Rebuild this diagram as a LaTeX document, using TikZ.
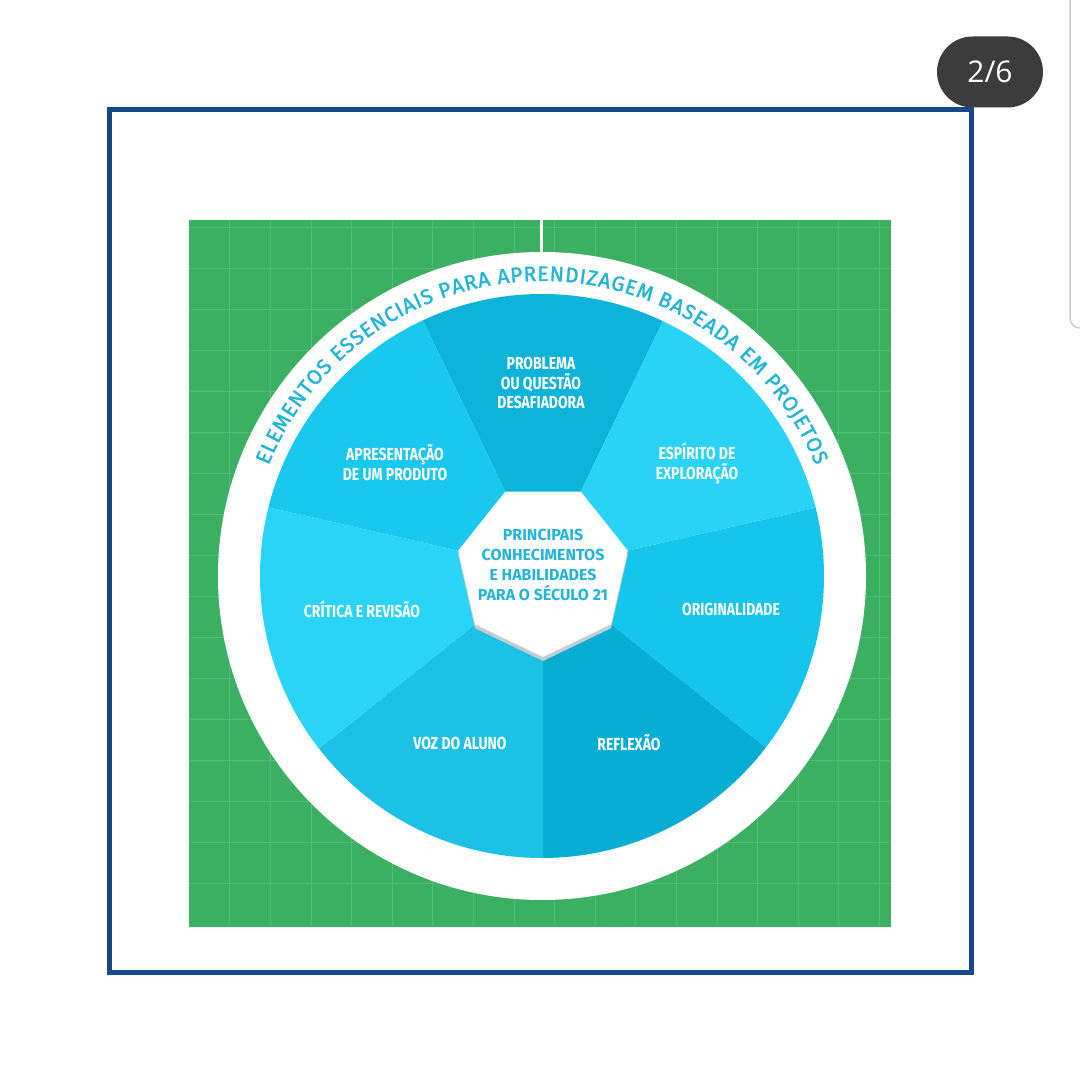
\documentclass[tikz,border=0pt]{standalone}
\usepackage{fontspec}
\setmainfont{Fira Sans}
\newfontfamily\condfont[FakeStretch=0.8]{Fira Sans}
\newfontfamily\arcfont[FakeBold=1.6]{Fira Sans}
\newfontfamily\pagefont{Open Sans}
\usetikzlibrary{decorations.text}

\definecolor{frameblue}{RGB}{23,72,140}
\definecolor{boardgreen}{RGB}{60,176,98}
\definecolor{gridgreen}{RGB}{84,188,116}
\definecolor{textblue}{RGB}{34,180,217}
\definecolor{pillgray}{RGB}{60,60,60}
\definecolor{scrollgray}{RGB}{205,205,205}
\definecolor{shadowgray}{RGB}{196,204,210}
\definecolor{segA}{RGB}{13,179,217}
\definecolor{segB}{RGB}{40,211,245}
\definecolor{segC}{RGB}{22,197,236}
\definecolor{segD}{RGB}{8,173,212}
\definecolor{segE}{RGB}{29,193,230}
\definecolor{segF}{RGB}{41,212,246}
\definecolor{segG}{RGB}{26,199,238}

\tikzset{
  seglabel/.style={text=white, align=center, inner sep=0pt,
    font=\condfont\bfseries\fontsize{17.5}{20}\selectfont},
  corelabel/.style={text=textblue, align=center, inner sep=0pt,
    font=\bfseries\fontsize{16}{20}\selectfont},
  pill/.style={fill=pillgray, rounded corners=35.5bp, minimum width=106bp,
    minimum height=71bp, text=white, font=\pagefont\fontsize{30}{30}\selectfont},
  gridline/.style={gridgreen, line width=0.6bp},
  frame/.style={frameblue, line width=4.5bp}
}

\begin{document}
\begin{tikzpicture}[x=1bp,y=1bp]
\useasboundingbox (0,0) rectangle (1080,1075);
\fill[white] (0,0) rectangle (1080,1075);

% page counter and scroll edge
\node[pill] (page) at (990,1003) {2/6};
\draw[scrollgray, line width=1.5bp] (1070,1075) -- (1070,757) arc (180:270:10);

% outer frame
\draw[frame] (109.5,102.5) rectangle (971.5,965.5);

% green board with grid
\fill[boardgreen] (189,148) rectangle (891,855);
\foreach \k in {1,...,17}
  \draw[gridline] ({189+40.6*\k},148) -- ({189+40.6*\k},855);
\foreach \k in {0,...,16}
  \draw[gridline] (189,{848-41*\k}) -- (891,{848-41*\k});

\coordinate (c) at (542,499);
\coordinate (h) at (543,505);
\coordinate (stem) at (541,855);

% white ring
\draw[white, line width=3bp] (stem) -- ++(0,-40);
\fill[white] (c) circle (324);

% seven sectors
\begin{scope}
\clip (c) circle (282);
\fill[segA] (h) -- +(64.29:420) -- +(115.71:420) -- cycle;
\fill[segB] (h) -- +(12.86:420) -- +(64.29:420) -- cycle;
\fill[segC] (h) -- +(-38.57:420) -- +(12.86:420) -- cycle;
\fill[segD] (h) -- +(-90:420) -- +(-38.57:420) -- cycle;
\fill[segE] (h) -- +(218.57:420) -- +(270:420) -- cycle;
\fill[segF] (h) -- +(167.14:420) -- +(218.57:420) -- cycle;
\fill[segG] (h) -- +(115.71:420) -- +(167.14:420) -- cycle;
\end{scope}

% heptagon in the middle
\fill[shadowgray] ([yshift=-4]h) +(-90:87) -- +(-38.57:87) -- +(12.86:87) -- +(64.29:87)
  -- +(115.71:87) -- +(167.14:87) -- +(218.57:87) -- cycle;
\fill[white] (h) +(-90:87) -- +(-38.57:87) -- +(12.86:87) -- +(64.29:87)
  -- +(115.71:87) -- +(167.14:87) -- +(218.57:87) -- cycle;

% labels
\node[corelabel] (core) at (543,510) {PRINCIPAIS\\CONHECIMENTOS\\E HABILIDADES\\PARA O SÉCULO 21};
\node[seglabel] (problema) at (541,692) {PROBLEMA\\OU QUESTÃO\\DESAFIADORA};
\node[seglabel] (espirito) at (697,612) {ESPÍRITO DE\\EXPLORAÇÃO};
\node[seglabel] (original) at (731,466) {ORIGINALIDADE};
\node[seglabel] (reflexao) at (629,332) {REFLEXÃO};
\node[seglabel] (voz) at (460,332) {VOZ DO ALUNO};
\node[seglabel] (critica) at (362,466) {CRÍTICA E REVISÃO};
\node[seglabel] (produto) at (395,612) {APRESENTAÇÃO\\DE UM PRODUTO};

% title round the ring
\path[decorate, decoration={text along path, text align={fit to path},
  text={|\arcfont\fontsize{21}{21}\selectfont\color{textblue}|ELEMENTOS ESSENCIAIS PARA APRENDIZAGEM BASEADA EM PROJETOS}}]
  (c) ++(158:295) arc[start angle=158, end angle=22, radius=295];
\end{tikzpicture}
\end{document}
